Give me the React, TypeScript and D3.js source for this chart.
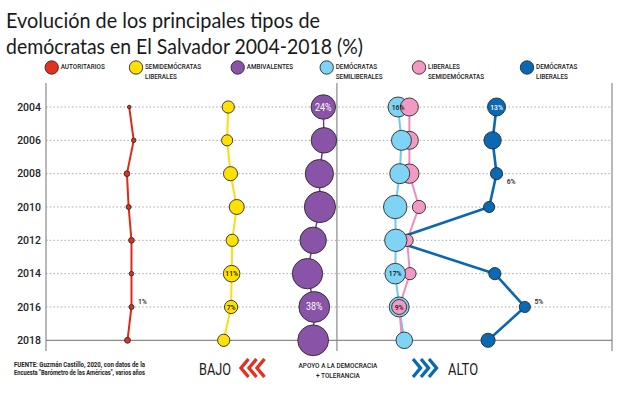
import React from 'react';
import * as d3 from 'd3';

// ---------- data ----------
const YEARS = ['2004', '2006', '2008', '2010', '2012', '2014', '2016', '2018'];

// position on the "apoyo a la democracia + tolerancia" scale (0-100) and share (%)
const AUT_POS = [14.7, 15.5, 14.3, 14.6, 15.1, 15.1, 15.1, 14.4];
const AUT_VAL = [0.5, 0.8, 1.3, 1, 1.3, 0.8, 1, 1.4];
const SEMLIB_POS = [32.2, 32.0, 32.6, 33.7, 32.9, 32.8, 32.7, 31.4];
const SEMLIB_VAL = [6, 5, 8, 9, 6, 11, 7, 6];
const AMB_POS = [49.0, 49.1, 48.3, 48.4, 47.2, 46.2, 47.4, 47.2];
const AMB_VAL = [24, 26, 32, 39, 28, 37, 38, 38];
const DEMSEM_POS = [62.2, 62.8, 62.5, 61.7, 61.8, 61.7, 62.4, 63.3];
const DEMSEM_VAL = [16, 16, 16, 22, 20, 17, 16, 11];
const LIBSEM_POS = [64.2, 64.2, 64.2, 65.9, 63.8, 64.3, 62.4, 62.9];
const LIBSEM_VAL = [13, 13, 15, 7, 6, 6, 9, 4];
const DEMLIB_POS = [79.6, 78.9, 79.6, 78.3, 61.1, 79.3, 84.6, 78.1];
const DEMLIB_VAL = [13, 12, 6, 5, 3, 6, 5, 8];

const SERIES_NAMES = [
  ['AUTORITARIOS'],
  ['SEMIDEMÓCRATAS', 'LIBERALES'],
  ['AMBIVALENTES'],
  ['DEMÓCRATAS', 'SEMILIBERALES'],
  ['LIBERALES', 'SEMIDEMÓCRATAS'],
  ['DEMÓCRATAS', 'LIBERALES'],
];

// labels: [series index, year, text]
const INNER_LABELS: [number, string, string][] = [
  [2, '2004', '24%'],
  [2, '2016', '38%'],
  [1, '2014', '11%'],
  [1, '2016', '7%'],
  [3, '2004', '16%'],
  [5, '2004', '13%'],
  [3, '2014', '17%'],
  [4, '2016', '9%'],
];
const OUTER_LABELS: [number, string, string][] = [
  [0, '2016', '1%'],
  [5, '2008', '6%'],
  [5, '2016', '5%'],
];
const PINK_FRONT_YEARS = ['2004', '2016'];

const SOURCE_LINES = [
  'FUENTE: Guzmán Castillo, 2020, con datos de la',
  'Encuesta "Barómetro de las Américas", varios años',
];
const AXIS_TEXT = ['APOYO A LA DEMOCRACIA', '+ TOLERANCIA'];
const TITLE_LINES = [
  'Evolución de los principales tipos de',
  'demócratas en El Salvador 2004-2018 (%)',
];

// ---------- style ----------
const FILLS = ['#e2321f', '#ffe100', '#8953a7', '#7fd3f4', '#f39ac4', '#0a69b3'];
const STROKES = ['#de2a18', '#f9df10', '#6a3f8e', '#6fcaf0', '#ef8dbc', '#0b67b0'];
const LINE_W = [2, 2, 1.5, 2, 2, 2.6];
const INNER_FILL = ['#111', '#111', '#fff', '#111', '#111', '#fff'];
const LEGEND_X = [51.7, 136, 237.7, 326.7, 419, 527];
const FONT = 'Roboto, "Noto Sans", sans-serif';

const W = 627;
const H = 396;

export default function App() {
  const positions = [AUT_POS, SEMLIB_POS, AMB_POS, DEMSEM_POS, LIBSEM_POS, DEMLIB_POS];
  const values = [AUT_VAL, SEMLIB_VAL, AMB_VAL, DEMSEM_VAL, LIBSEM_VAL, DEMLIB_VAL];

  const x = d3.scaleLinear().domain([0, 100]).range([46, 612]);
  const y = d3.scalePoint<string>().domain(YEARS).range([107, 340.3]);
  const r = d3.scaleSqrt().domain([0, 100]).range([0, 25]);

  const line = (s: number) =>
    d3
      .line<number>()
      .x((p) => x(p))
      .y((_, i) => y(YEARS[i]) as number)(positions[s]) as string;

  const circle = (s: number, i: number, key?: string) => (
    <circle
      key={key ?? `c${s}-${i}`}
      cx={x(positions[s][i])}
      cy={y(YEARS[i])}
      r={r(values[s][i])}
      fill={FILLS[s]}
      stroke="#2a2a2a"
      strokeWidth={0.9}
    />
  );

  const cond = (
    tx: number,
    ty: number,
    text: string,
    opts: { size: number; weight?: number; fill?: string; anchor?: string; sx?: number; family?: string }
  ) => (
    <text
      key={`${text}-${tx}-${ty}`}
      transform={`translate(${tx},${ty}) scale(${opts.sx ?? 0.85},1)`}
      fontSize={opts.size}
      fontWeight={opts.weight ?? 400}
      fill={opts.fill ?? '#1a1a1a'}
      textAnchor={opts.anchor ?? 'start'}
      fontFamily={opts.family ?? FONT}
    >
      {text}
    </text>
  );

  const gridTop = 83;
  const gridBottom = 351;
  const midX = x(51.4);

  const chevrons = (x0: number, dir: number, color: string) =>
    [0, 1, 2].map((k) => {
      const cx = x0 + k * 8;
      const yc = 368;
      const d =
        dir < 0
          ? `M${cx + 7.5},${yc - 9} L${cx},${yc} L${cx + 7.5},${yc + 9}`
          : `M${cx},${yc - 9} L${cx + 7.5},${yc} L${cx},${yc + 9}`;
      return <path key={`ch${x0}-${k}`} d={d} fill="none" stroke={color} strokeWidth={3.4} />;
    });

  return (
    <svg
      width={W}
      height={H}
      style={{ position: 'absolute', left: 0, top: 0, background: '#fff' }}
      fontFamily={FONT}
    >
      <rect width={W} height={H} fill="#fff" />
      {/* title */}
      {TITLE_LINES.map((t, i) => (
        <text
          key={t}
          x={6}
          y={28 + i * 26}
          fontSize={22}
          fontFamily='Lato, "Open Sans", sans-serif'
          fill="#1a1a1a"
          textLength={i === 0 ? 314 : 357}
          lengthAdjust="spacingAndGlyphs"
        >
          {t}
        </text>
      ))}

      {/* legend */}
      {SERIES_NAMES.map((lines, s) => (
        <g key={`lg${s}`}>
          <circle cx={LEGEND_X[s]} cy={67.5} r={6.7} fill={FILLS[s]} stroke="#2a2a2a" strokeWidth={0.9} />
          {lines.map((t, j) =>
            cond(LEGEND_X[s] + 9, 68.5 + j * 10, t, { size: 7.6, weight: 500, sx: 0.84 })
          )}
        </g>
      ))}

      {/* grid */}
      {YEARS.map((yr, i) => (
        <line
          key={`g${yr}`}
          x1={x(0)}
          x2={x(100)}
          y1={y(yr)}
          y2={y(yr)}
          stroke={i === YEARS.length - 1 ? '#8a8a8a' : '#a8a8a8'}
          strokeWidth={i === YEARS.length - 1 ? 1.2 : 1}
          strokeDasharray={i === YEARS.length - 1 ? undefined : '1.5 2.2'}
        />
      ))}
      {[x(0), midX, x(100)].map((vx) => (
        <line key={`v${vx}`} x1={vx} x2={vx} y1={gridTop} y2={gridBottom} stroke="#8a8a8a" strokeWidth={1.2} />
      ))}

      {/* year labels */}
      {YEARS.map((yr) => (
        <text
          key={`yl${yr}`}
          x={41}
          y={(y(yr) as number) + 3.8}
          fontSize={10.5}
          fontWeight={500}
          textAnchor="end"
          fill="#222"
        >
          {yr}
        </text>
      ))}

      {/* lines */}
      {[0, 1, 2, 3, 4, 5].map((s) => (
        <path key={`l${s}`} d={line(s)} fill="none" stroke={STROKES[s]} strokeWidth={LINE_W[s]} strokeLinejoin="round" />
      ))}

      {/* circles */}
      {[0, 1, 2, 5].map((s) => YEARS.map((_, i) => circle(s, i)))}
      {YEARS.map((yr, i) =>
        PINK_FRONT_YEARS.includes(yr)
          ? [circle(3, i), circle(4, i)]
          : [circle(4, i), circle(3, i)]
      )}

      {/* inner labels */}
      {INNER_LABELS.map(([s, yr, t]) => {
        const i = YEARS.indexOf(yr);
        const big = s === 2;
        return cond(x(positions[s][i]), (y(yr) as number) + (big ? 3.5 : 2.8), t, {
          size: big ? 10.5 : 8,
          weight: big ? 400 : 500,
          fill: INNER_FILL[s],
          anchor: 'middle',
          sx: 0.85,
        });
      })}

      {/* outer labels */}
      {OUTER_LABELS.map(([s, yr, t]) => {
        const i = YEARS.indexOf(yr);
        const cx = x(positions[s][i]);
        const cy = y(yr) as number;
        const rr = r(values[s][i]);
        const below = s === 5 && yr === '2008';
        return cond(cx + rr + 4, below ? cy + rr + 4 : cy - 3, t, { size: 7.6, weight: 500, sx: 0.9 });
      })}

      {/* footer */}
      {SOURCE_LINES.map((t, i) => (
        <text
          key={`src${i}`}
          x={14}
          y={367 + i * 8}
          fontSize={6.8}
          fontWeight={700}
          fill="#1a1a1a"
          textLength={131}
          lengthAdjust="spacingAndGlyphs"
        >
          {t}
        </text>
      ))}
      <text x={199} y={375} fontSize={17} fill="#1a1a1a" textLength={32} lengthAdjust="spacingAndGlyphs">
        BAJO
      </text>
      {chevrons(241, -1, '#e2321f')}
      {AXIS_TEXT.map((t, i) => cond(midX + 1, 367.5 + i * 10, t, { size: 7.6, weight: 500, anchor: 'middle', sx: 0.85 }))}
      {chevrons(413, 1, '#0a69b3')}
      <text x={448} y={375} fontSize={17} fill="#1a1a1a" textLength={30} lengthAdjust="spacingAndGlyphs">
        ALTO
      </text>
    </svg>
  );
}
